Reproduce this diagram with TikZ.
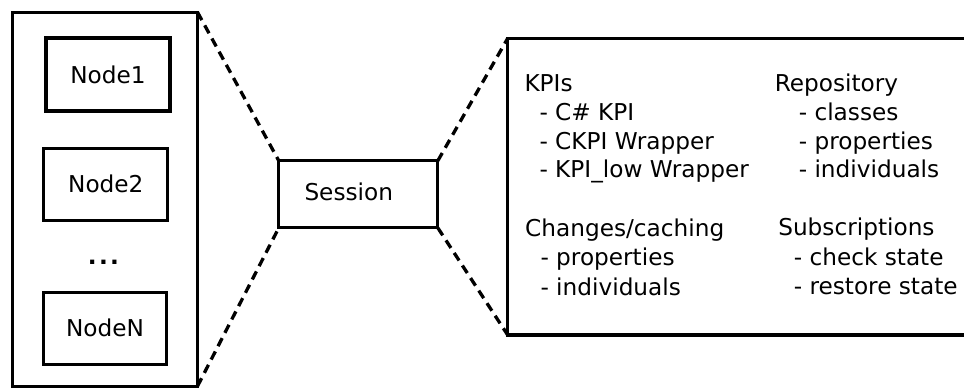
\documentclass[tikz,border=0pt]{standalone}
\usepackage{fontspec}
\setmainfont{DejaVu Sans}
\begin{document}
\begin{tikzpicture}[x=1pt,y=-1pt,
  every node/.style={font=\fontsize{23.2}{28.7}\selectfont},
  box/.style={draw, line width=3.3pt, outer sep=0pt, inner sep=0pt, rectangle},
  txt/.style={anchor=base west, inner sep=0pt, outer sep=0pt},
  zoomline/.style={line width=3.3pt, dash pattern=on 9pt off 6pt}]
\useasboundingbox (0,0) rectangle (964,389);
\clip (0,0) rectangle (964,389);
% left cluster
\node[box, minimum width=185.3pt, minimum height=374pt] (cluster) at (104.85,199.2) {};
\node[box, minimum width=124pt, minimum height=73pt] (n1) at (108,74.5) {Node1};
\node[box, minimum width=124pt, minimum height=72pt] (n2) at (105.8,184.2) {Node2};
\node[anchor=base, inner sep=0pt] (dots) at (103.5,264.5) {\bfseries .\kern2.3pt.\kern2.3pt.};
\node[box, minimum width=123.6pt, minimum height=72.3pt] (nN) at (105,328.3) {NodeN};
% session
\node[box, minimum width=159pt, minimum height=67pt] (session) at (358.3,194.3) {};
\node[txt] (sesstext) at (304.5,200) {Session};
% detail box (right side runs off the picture)
\node[box, minimum width=492.3pt, minimum height=296.7pt] (detail) at (753.85,186.65) {};
% zoom lines
\draw[zoomline] (cluster.north east) -- (session.north west);
\draw[zoomline] (cluster.south east) -- (session.south west);
\draw[zoomline] (session.north east) -- (detail.north west);
\draw[zoomline] (session.south east) -- (detail.south west);
% detail texts
\node[txt] (kpi) at (524.5,91.7) {KPIs};
\node[txt] (kpia) at (539.5,120) {- C\# KPI};
\node[txt] (kpib) at (539.5,149) {- CKPI Wrapper};
\node[txt] (kpic) at (539.5,177.7) {- KPI\_low Wrapper};
\node[txt] (chg) at (525.2,236.7) {Changes/caching};
\node[txt] (chga) at (540.5,265.7) {- properties};
\node[txt] (chgb) at (540.5,295) {- individuals};
\node[txt] (rep) at (774.8,91.7) {Repository};
\node[txt] (repa) at (798.8,120) {- classes};
\node[txt] (repb) at (798.8,149) {- properties};
\node[txt] (repc) at (798.8,177.7) {- individuals};
\node[txt] (sub) at (778.3,235) {Subscriptions};
\node[txt] (suba) at (793.8,265) {- check state};
\node[txt] (subb) at (793.8,294) {- restore state};
\end{tikzpicture}
\end{document}
